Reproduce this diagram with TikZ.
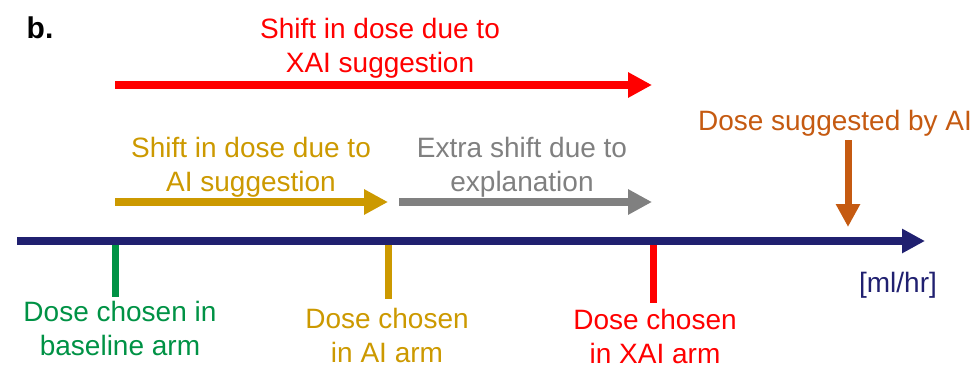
\documentclass[tikz,border=0pt]{standalone}
\usepackage{fontspec}
\setmainfont{Liberation Sans}
\usetikzlibrary{arrows.meta}
\definecolor{xaired}{RGB}{255,0,0}
\definecolor{aigold}{RGB}{204,153,0}
\definecolor{basegreen}{RGB}{0,146,69}
\definecolor{extragray}{RGB}{128,128,128}
\definecolor{sugorange}{RGB}{197,90,17}
\definecolor{axisblue}{RGB}{32,32,112}
\begin{document}
\begin{tikzpicture}[x=1pt, y=-1pt,
		every node/.style={font=\fontsize{28}{34}\selectfont, align=center, inner sep=0pt, anchor=base},
		shiftarrow/.style={line width=8pt, -{Triangle[length=24pt, width=24pt]}},
		tickmark/.style={line width=7pt}]
		\useasboundingbox (0,0) rectangle (977,368);
		\node[font=\fontsize{30}{36}\selectfont\bfseries] (panel) at (40,38) {b.};
		% shifts above the axis
		\coordinate (r0) at (115,85);
		\coordinate (r1) at (652,85);
		\coordinate (g0) at (115,202);
		\coordinate (g1) at (388,202);
		\coordinate (e0) at (399,202);
		\coordinate (e1) at (652,202);
		\node[text=xaired] (xaishift) at (380,72) {Shift in dose due to\\XAI suggestion};
		\node[text=aigold] (aishift) at (251,191) {Shift in dose due to\\AI suggestion};
		\node[text=extragray] (extrashift) at (522,191) {Extra shift due to\\explanation};
		\draw[shiftarrow, xaired] (r0) -- (r1);
		\draw[shiftarrow, aigold] (g0) -- (g1);
		\draw[shiftarrow, extragray] (e0) -- (e1);
		% dose suggested by AI
		\node[text=sugorange] (sugg) at (835,130) {Dose suggested by AI};
		\coordinate (s1) at (848,227);
		\draw[sugorange, line width=7pt, -{Triangle[length=23pt, width=23pt]}] (sugg.south -| s1) ++(0,4) -- (s1);
		% ticks and axis
		\coordinate (t1) at (115.5,241);
		\coordinate (t2) at (388,241);
		\coordinate (t3) at (653,241);
		\node[text=basegreen] (base) at (120,355) {Dose chosen in\\baseline arm};
		\node[text=aigold] (aiarm) at (387,362) {Dose chosen\\in AI arm};
		\node[text=xaired] (xaiarm) at (655,363) {Dose chosen\\in XAI arm};
		\draw[tickmark, basegreen] (t1) -- ++(0,56);
		\draw[tickmark, aigold] (t2) -- ++(0,58);
		\draw[tickmark, xaired] (t3) -- ++(0,62);
		\coordinate (a0) at (17,241);
		\coordinate (a1) at (925,241);
		\draw[axisblue, line width=8pt, -{Triangle[length=23pt, width=23pt]}] (a0) -- (a1);
		\node[text=axisblue] (unit) at (898,292) {[ml/hr]};
	\end{tikzpicture}
\end{document}
